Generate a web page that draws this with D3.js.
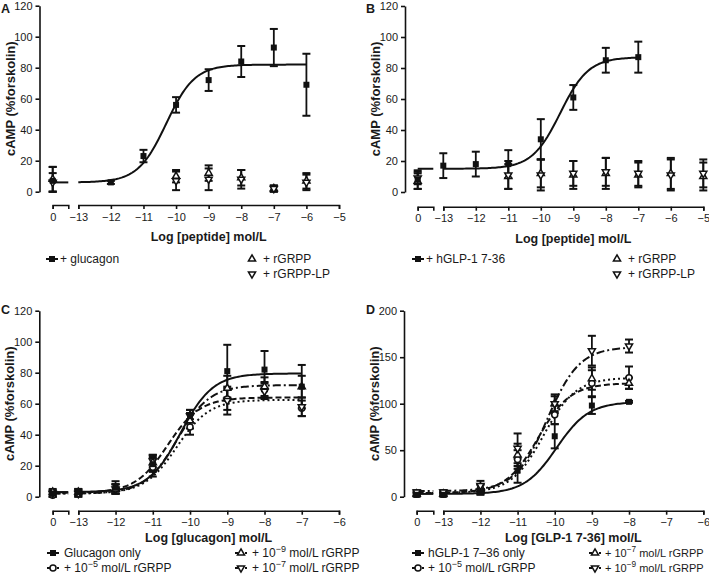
<!DOCTYPE html>
<html><head><meta charset="utf-8">
<script src="https://cdn.jsdelivr.net/npm/d3@7"></script>
<style>
body{margin:0;background:#fff}
svg{display:block}
text{font-family:"Liberation Sans",Arial,sans-serif;fill:#1a1a1a}
</style>
</head><body>
<svg id="c" width="709" height="585"></svg>
<script>
// ---------------- DATA ----------------
// Panel A
const aGlucX = [0, -12, -11, -10, -9, -8, -7, -6];
const aGlucY = [7, 6, 23, 56, 72, 84, 93, 69];
const aGlucE = [9, 1, 4, 5, 7, 10, 12, 20];
const aGrppX = [0, -10, -9, -8, -7, -6];
const aGrppY = [8, 10, 12, 9, 2, 7];
const aGrppE = [8, 4, 5, 5, 2, 5];
const aLpY = [6, 7, 8, 8, 2, 6];
const aLpE = [6, 6, 7, 6, 2, 5];
const aGlucFit = [6, 82, -10.3];          // bottom, top, logEC50
// Panel B
const bGlpX = [0, -13, -12, -11, -10, -9, -8, -7];
const bGlpY = [8, 17, 18, 18, 34, 61, 85, 87];
const bGlpE = [6, 8, 8, 9, 13, 8, 8, 10];
const bGrppX = [0, -11, -10, -9, -8, -7, -6, -5];
const bGrppY = [7, 10, 12, 11, 12, 11, 12, 10];
const bGrppE = [5, 8, 9, 9, 10, 8, 10, 9];
const bLpY = [9, 11, 11, 12, 13, 12, 11, 12];
const bLpE = [4, 9, 10, 8, 9, 8, 10, 9];
const bGlpFit = [15, 87, -9.4];
// Panel C
const cX = [0, -13, -12, -11, -10, -9, -8, -7];
const cOnlyY = [2, 3, 6, 21, 52, 81, 82, 71];
const cOnlyE = [2, 2, 4, 5, 4, 17, 12, 14];
const c5Y = [1, 2, 5, 19, 45, 63, 69, 57];
const c5E = [2, 2, 3, 6, 5, 7, 5, 5];
const c9Y = [3, 3, 5, 22, 49, 70, 71, 71];
const c9E = [2, 2, 3, 5, 5, 8, 6, 7];
const c7Y = [2, 2, 5, 23, 52, 62, 68, 58];
const c7E = [2, 2, 3, 4, 4, 9, 5, 6];
const cOnlyFit = [3, 79.5, -10.25];
const c5Fit = [2, 62.5, -10.35];
const c9Fit = [2, 72, -10.34];
const c7Fit = [2.5, 64, -10.6];
// Panel D
const dX = [0, -13, -12, -11, -10, -9, -8];
const dOnlyY = [2, 2, 5, 28, 65, 98, 102];
const dOnlyE = [2, 2, 3, 13, 13, 9, 1];
const d5Y = [3, 3, 9, 40, 88, 122, 128];
const d5E = [2, 2, 4, 10, 10, 14, 12];
const d7Y = [3, 3, 8, 45, 100, 127, 122];
const d7E = [2, 2, 5, 12, 8, 12, 6];
const d9Y = [5, 5, 12, 52, 100, 157, 162];
const d9E = [2, 2, 5, 16, 10, 16, 7];
const dOnlyFit = [3, 102, -9.95];
const d5Fit = [4, 128, -10.3];
const d7Fit = [4, 122, -10.45];
const d9Fit = [6, 161, -10.2];
// Tick labels
const yTicks120 = [0, 20, 40, 60, 80, 100, 120];
const yTicks200 = [0, 50, 100, 150, 200];
const xTicksAB = [-13, -12, -11, -10, -9, -8, -7, -6, -5];
const xTicksCD = [-13, -12, -11, -10, -9, -8, -7, -6];
const yTitle = "cAMP (%forskolin)";

// ---------------- DRAWING ----------------
const svg = d3.select("#c");
const DASH = {solid: null, dashed: "6,3", dotted: "2,3", dashdot: "8,3,2,3"};

function hill(p) { return x => p[0] + (p[1] - p[0]) / (1 + Math.pow(10, p[2] - x)); }

function drawMarker(g, type, cx, cy) {
  if (type === "sq") {
    g.append("rect").attr("x", cx - 3).attr("y", cy - 3).attr("width", 6).attr("height", 6)
      .attr("fill", "#111");
  } else if (type === "circ") {
    g.append("circle").attr("cx", cx).attr("cy", cy).attr("r", 3)
      .attr("fill", "#fff").attr("stroke", "#111").attr("stroke-width", 1.5);
  } else {
    const sym = d3.symbol().type(d3.symbolTriangle).size(22)();
    g.append("path").attr("d", sym)
      .attr("transform", `translate(${cx},${cy})` + (type === "down" ? " rotate(180)" : ""))
      .attr("fill", "#fff").attr("stroke", "#111").attr("stroke-width", 1.5);
  }
}

function panel(cfg) {
  const g = svg.append("g");
  const y = d3.scaleLinear().domain([0, cfg.yMax]).range([cfg.zeroY, cfg.topY]);
  const xm = d3.scaleLinear().domain([-13, cfg.xMax]).range([cfg.x13, cfg.xEnd]);
  const xb = d3.scaleLinear().domain([0, 1]).range([cfg.b0, cfg.bEnd]);
  const xp = v => v === 0 ? xb(0) : xm(v);

  // Y axis
  const ya = g.append("g").attr("transform", `translate(${cfg.yAxisX},0)`)
    .call(d3.axisLeft(y).tickValues(cfg.yTicks).tickSize(4).tickSizeOuter(0).tickPadding(3));
  // X axes (break segment + main)
  const xa1 = g.append("g").attr("transform", `translate(0,${cfg.xAxisY})`)
    .call(d3.axisBottom(xb).tickValues([0]).tickSize(4).tickSizeOuter(4).tickPadding(4)
      .tickFormat(d3.format("d")));
  const xa2 = g.append("g").attr("transform", `translate(0,${cfg.xAxisY})`)
    .call(d3.axisBottom(xm).tickValues(cfg.xTicks).tickSize(4).tickSizeOuter(4).tickPadding(4)
      .tickFormat(d3.format("d")));
  [ya, xa1, xa2].forEach(a => {
    a.selectAll("path,line").attr("stroke", "#111").attr("stroke-width", 1.6);
    a.selectAll("text").attr("font-size", 11).attr("fill", "#1a1a1a")
      .style("font-family", '"Liberation Sans",Arial,sans-serif');
  });

  // titles
  g.append("text").attr("transform", `translate(${cfg.yAxisX - 25},${(cfg.zeroY + cfg.topY) / 2}) rotate(-90)`)
    .attr("text-anchor", "middle").attr("font-size", 13).attr("font-weight", "bold").text(yTitle);
  g.append("text").attr("x", (cfg.x13 + cfg.xEnd) / 2).attr("y", cfg.xTitleY)
    .attr("text-anchor", "middle").attr("dominant-baseline", "central")
    .attr("font-size", 12.5).attr("font-weight", "bold").text(cfg.xTitle);
  g.append("text").attr("x", cfg.letterX).attr("y", cfg.letterY).attr("dominant-baseline", "central")
    .attr("font-size", 12.5).attr("font-weight", "bold").text(cfg.letter);

  // fit curves
  cfg.series.forEach(s => {
    if (!s.fit) return;
    const f = hill(s.fit);
    const last = d3.max(s.x.filter(v => v !== 0));
    const pts = d3.range(-13, last + 0.0001, 0.05).map(v => [xm(v), y(f(v))]);
    g.append("path").attr("d", d3.line()(pts)).attr("fill", "none").attr("stroke", "#111")
      .attr("stroke-width", 2).attr("stroke-dasharray", DASH[s.dash]);
    g.append("line").attr("x1", xb(0)).attr("x2", cfg.bEnd).attr("y1", y(s.fit[0])).attr("y2", y(s.fit[0]))
      .attr("stroke", "#111").attr("stroke-width", 2).attr("stroke-dasharray", DASH[s.dash]);
  });

  // error bars + markers
  cfg.series.forEach(s => {
    s.x.forEach((v, i) => {
      const cx = xp(v), lo = y(Math.max(0, s.y[i] - s.e[i])), hi = y(s.y[i] + s.e[i]);
      g.append("line").attr("x1", cx).attr("x2", cx).attr("y1", lo).attr("y2", hi)
        .attr("stroke", "#111").attr("stroke-width", 1.8);
      [lo, hi].forEach(yy => g.append("line").attr("x1", cx - 4).attr("x2", cx + 4)
        .attr("y1", yy).attr("y2", yy).attr("stroke", "#111").attr("stroke-width", 2));
    });
  });
  cfg.series.forEach(s => {
    s.x.forEach((v, i) => drawMarker(g, s.m, xp(v), y(s.y[i])));
  });

  // legend
  cfg.legend.forEach(l => {
    const s = cfg.series[l.s];
    if (s.fit) {
      g.append("line").attr("x1", l.x - 6).attr("x2", l.x + 6).attr("y1", l.y).attr("y2", l.y)
        .attr("stroke", "#111").attr("stroke-width", 2).attr("stroke-dasharray", s.dash === "solid" ? null : "3,2");
    }
    drawMarker(g, s.m, l.x, l.y);
    const fs = l.fs || 12;
    const t = g.append("text").attr("x", l.tx).attr("y", l.y).attr("dominant-baseline", "central")
      .attr("font-size", fs);
    if (l.sup) {
      t.append("tspan").text("+ 10");
      t.append("tspan").attr("dy", -4).attr("font-size", fs * 0.75).text(l.sup);
      t.append("tspan").attr("dy", 4).text(" mol/L rGRPP");
    } else {
      t.text(l.text);
    }
  });
}

panel({
  letter: "A", letterX: 1, letterY: 9,
  yMax: 120, yTicks: yTicks120, zeroY: 191.7, topY: 5.7, yAxisX: 39.5,
  b0: 52.7, bEnd: 68.3, x13: 78.3, xEnd: 339, xMax: -5, xTicks: xTicksAB, xAxisY: 205,
  xTitle: "Log [peptide] mol/L", xTitleY: 237,
  series: [
    {x: aGrppX, y: aGrppY, e: aGrppE, m: "up"},
    {x: aGrppX, y: aLpY, e: aLpE, m: "down"},
    {x: aGlucX, y: aGlucY, e: aGlucE, m: "sq", fit: aGlucFit, dash: "solid"}
  ],
  legend: [
    {s: 2, x: 52, tx: 60, y: 259, text: "+ glucagon"},
    {s: 0, x: 252, tx: 263, y: 259, text: "+ rGRPP"},
    {s: 1, x: 252, tx: 263, y: 274, text: "+ rGRPP-LP"}
  ]
});

panel({
  letter: "B", letterX: 366, letterY: 9,
  yMax: 120, yTicks: yTicks120, zeroY: 192, topY: 6, yAxisX: 405,
  b0: 417.7, bEnd: 433.3, x13: 443.3, xEnd: 703.3, xMax: -5, xTicks: xTicksAB, xAxisY: 206.7,
  xTitle: "Log [peptide] mol/L", xTitleY: 239,
  series: [
    {x: bGrppX, y: bGrppY, e: bGrppE, m: "up"},
    {x: bGrppX, y: bLpY, e: bLpE, m: "down"},
    {x: bGlpX, y: bGlpY, e: bGlpE, m: "sq", fit: bGlpFit, dash: "solid"}
  ],
  legend: [
    {s: 2, x: 418, tx: 426, y: 259, text: "+ hGLP-1 7-36"},
    {s: 0, x: 617, tx: 628, y: 259, text: "+ rGRPP"},
    {s: 1, x: 617, tx: 628, y: 274, text: "+ rGRPP-LP"}
  ]
});

panel({
  letter: "C", letterX: 1, letterY: 310,
  yMax: 120, yTicks: yTicks120, zeroY: 496.7, topY: 310.7, yAxisX: 39.3,
  b0: 52.7, bEnd: 68.3, x13: 78.3, xEnd: 339, xMax: -6, xTicks: xTicksCD, xAxisY: 510.7,
  xTitle: "Log [glucagon] mol/L", xTitleY: 538,
  series: [
    {x: cX, y: c5Y, e: c5E, m: "circ", fit: c5Fit, dash: "dotted"},
    {x: cX, y: c7Y, e: c7E, m: "down", fit: c7Fit, dash: "dashed"},
    {x: cX, y: c9Y, e: c9E, m: "up", fit: c9Fit, dash: "dashdot"},
    {x: cX, y: cOnlyY, e: cOnlyE, m: "sq", fit: cOnlyFit, dash: "solid"}
  ],
  legend: [
    {s: 3, x: 53, tx: 64, y: 553, text: "Glucagon only"},
    {s: 0, x: 53, tx: 64, y: 568, sup: "−5"},
    {s: 2, x: 241, tx: 252, y: 553, sup: "−9"},
    {s: 1, x: 241, tx: 252, y: 568, sup: "−7"}
  ]
});

panel({
  letter: "D", letterX: 366, letterY: 310,
  yMax: 200, yTicks: yTicks200, zeroY: 496.7, topY: 310.7, yAxisX: 404,
  b0: 416.7, bEnd: 433.3, x13: 443.3, xEnd: 703.3, xMax: -6, xTicks: xTicksCD, xAxisY: 510.7,
  xTitle: "Log [GLP-1 7-36] mol/L", xTitleY: 538,
  series: [
    {x: dX, y: d5Y, e: d5E, m: "circ", fit: d5Fit, dash: "dotted"},
    {x: dX, y: d7Y, e: d7E, m: "up", fit: d7Fit, dash: "dashed"},
    {x: dX, y: d9Y, e: d9E, m: "down", fit: d9Fit, dash: "dashdot"},
    {x: dX, y: dOnlyY, e: dOnlyE, m: "sq", fit: dOnlyFit, dash: "solid"}
  ],
  legend: [
    {s: 3, x: 418, tx: 428, y: 553, text: "hGLP-1 7–36 only"},
    {s: 0, x: 418, tx: 428, y: 568, sup: "−5"},
    {s: 1, x: 595, tx: 605, y: 553, sup: "−7", fs: 11},
    {s: 2, x: 595, tx: 605, y: 568, sup: "−9", fs: 11}
  ]
});
</script>
</body></html>
